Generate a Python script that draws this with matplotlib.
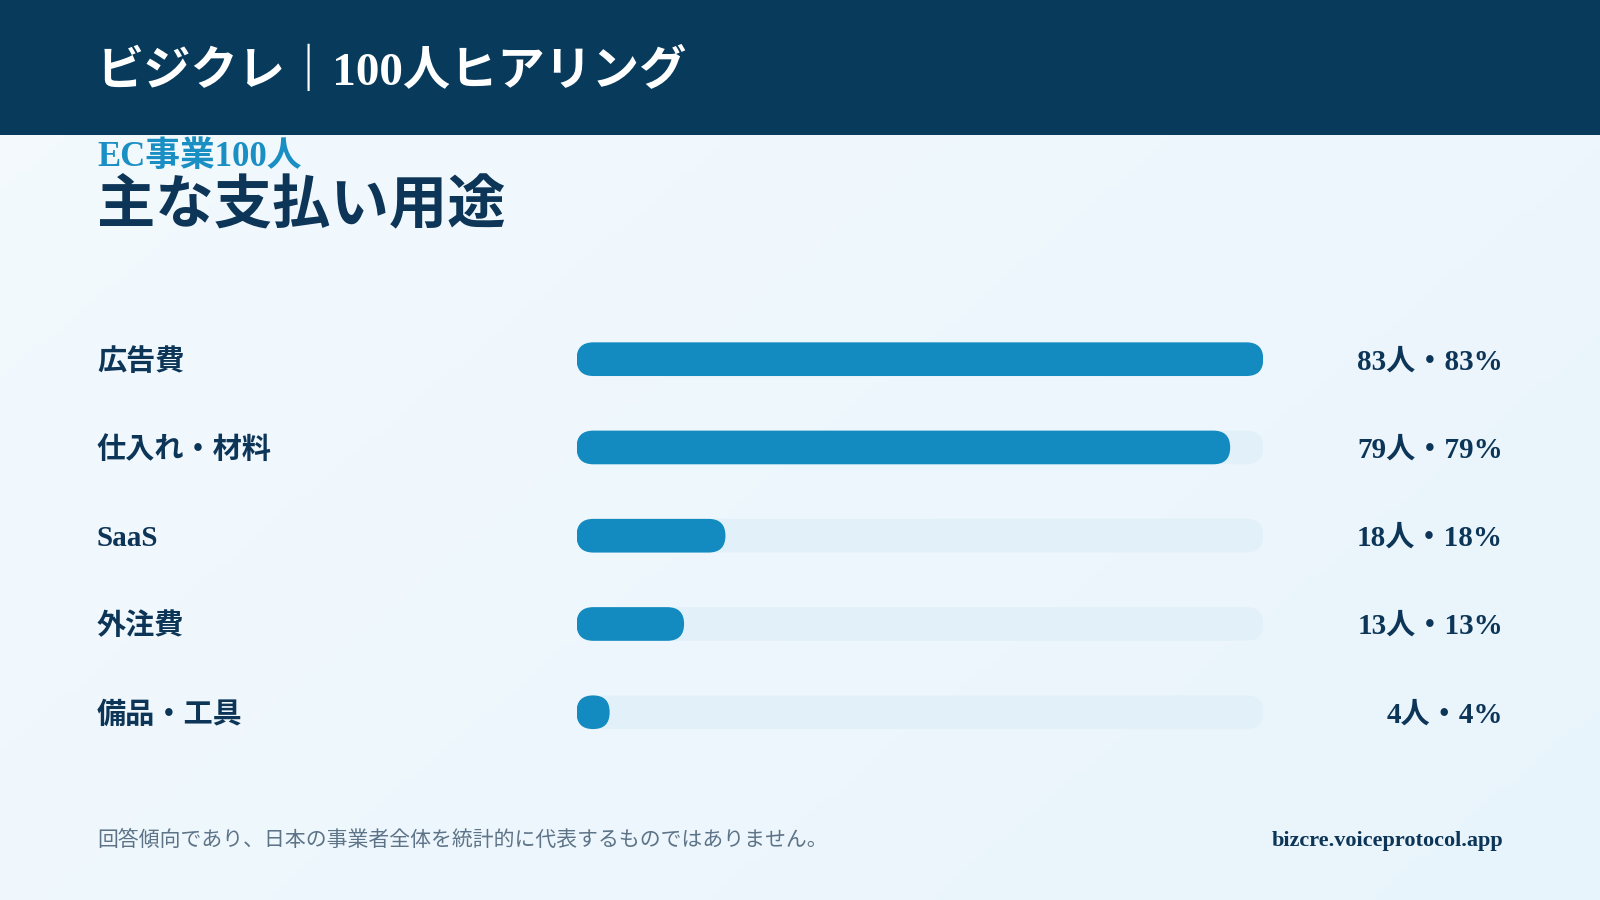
import numpy as np
import matplotlib.pyplot as plt
from matplotlib.patches import FancyBboxPatch, Rectangle
from matplotlib.transforms import blended_transform_factory

# data
categories = ['広告費', '仕入れ・材料', 'SaaS', '外注費', '備品・工具']
counts = [83, 79, 18, 13, 4]
percents = [83, 79, 18, 13, 4]
header_title = 'ビジクレ｜100人ヒアリング'
kicker = 'EC事業100人'
title = '主な支払い用途'
note = '回答傾向であり、日本の事業者全体を統計的に代表するものではありません。'
url = 'bizcre.voiceprotocol.app'

NAVY = '#083a5c'
TEXT = '#0c3557'
BLUE = '#138bc0'
TRACK = '#e2f1f9'
KICK = '#1a8fc4'
GREY = '#5d7387'
FAM = ['Liberation Serif', 'Noto Sans CJK JP', 'DejaVu Sans']
plt.rcParams['font.family'] = FAM

W, H = 1568.0, 882.0  # layout grid
fx = lambda px: px / W
fy = lambda py: 1 - py / H

fig = plt.figure(figsize=(16, 9), dpi=100)

# background gradient
bg = fig.add_axes([0, 0, 1, 1])
bg.set_axis_off()
gx, gy = np.meshgrid(np.linspace(0, 1, 200), np.linspace(0, 1, 120))
g = (gx * 0.6 + gy * 0.4)
c0 = np.array([0xf4, 0xfa, 0xfe]) / 255
c1 = np.array([0xe8, 0xf4, 0xfb]) / 255
img = c0[None, None, :] * (1 - g[..., None]) + c1[None, None, :] * g[..., None]
bg.imshow(img, extent=[0, 1, 0, 1], aspect='auto', origin='upper')
bg.set_xlim(0, 1)
bg.set_ylim(0, 1)
bg.add_patch(Rectangle((0, fy(132)), 1, 1 - fy(132), color=NAVY, lw=0))

fig.text(fx(95), fy(70), header_title, color='white', fontsize=34,
         fontweight='bold', va='center', ha='left')
fig.text(fx(95), fy(154), kicker, color=KICK, fontsize=25,
         fontweight='bold', va='center', ha='left')
fig.text(fx(95), fy(203), title, color=TEXT, fontsize=42,
         fontweight='bold', va='center', ha='left')

# bar area
n = len(categories)
row_top, row_step = 352, 86.5
ax_top = row_top - row_step / 2
ax_h = row_step * n
x0, track = 565, 673
ax = fig.add_axes([fx(x0), fy(ax_top + ax_h), track / W, ax_h / H])
ax.set_axis_off()
vmax = max(counts)
ax.set_xlim(0, vmax)
ax.set_ylim(n - 0.5, -0.5)

fig_w_px, fig_h_px = 1600, 900
xu = vmax / (track / W * fig_w_px)      # x units per pixel
yu = n / (ax_h / H * fig_h_px)          # y units per pixel
bar_px = 33 * fig_h_px / H
bh = bar_px * yu
rad = bar_px / 2 * xu
asp = yu / xu

for i, v in enumerate(counts):
    ax.add_patch(FancyBboxPatch((0, i - bh / 2), vmax, bh,
                                boxstyle='round,pad=0,rounding_size=%f' % rad,
                                mutation_aspect=asp, fc=TRACK, ec='none'))
    ax.add_patch(FancyBboxPatch((0, i - bh / 2), v, bh,
                                boxstyle='round,pad=0,rounding_size=%f' % min(rad, v / 2),
                                mutation_aspect=asp, fc=BLUE, ec='none'))

tr = blended_transform_factory(fig.transFigure, ax.transData)
dy = 2.5 * yu  # nudge text down a little
for i, (c, k, p) in enumerate(zip(categories, counts, percents)):
    ax.text(fx(95), i + dy, c, transform=tr, color=TEXT, fontsize=21,
            fontweight='bold', va='center', ha='left')
    ax.text(fx(1473), i + dy, '%d人・%d%%' % (k, p), transform=tr, color=TEXT,
            fontsize=21, fontweight='bold', va='center', ha='right')

fig.text(fx(95), fy(824), note, color=GREY, fontsize=15, va='center', ha='left')
fig.text(fx(1473), fy(824), url, color=TEXT, fontsize=16, fontweight='bold',
         va='center', ha='right')

plt.savefig('out.png', dpi=100)
